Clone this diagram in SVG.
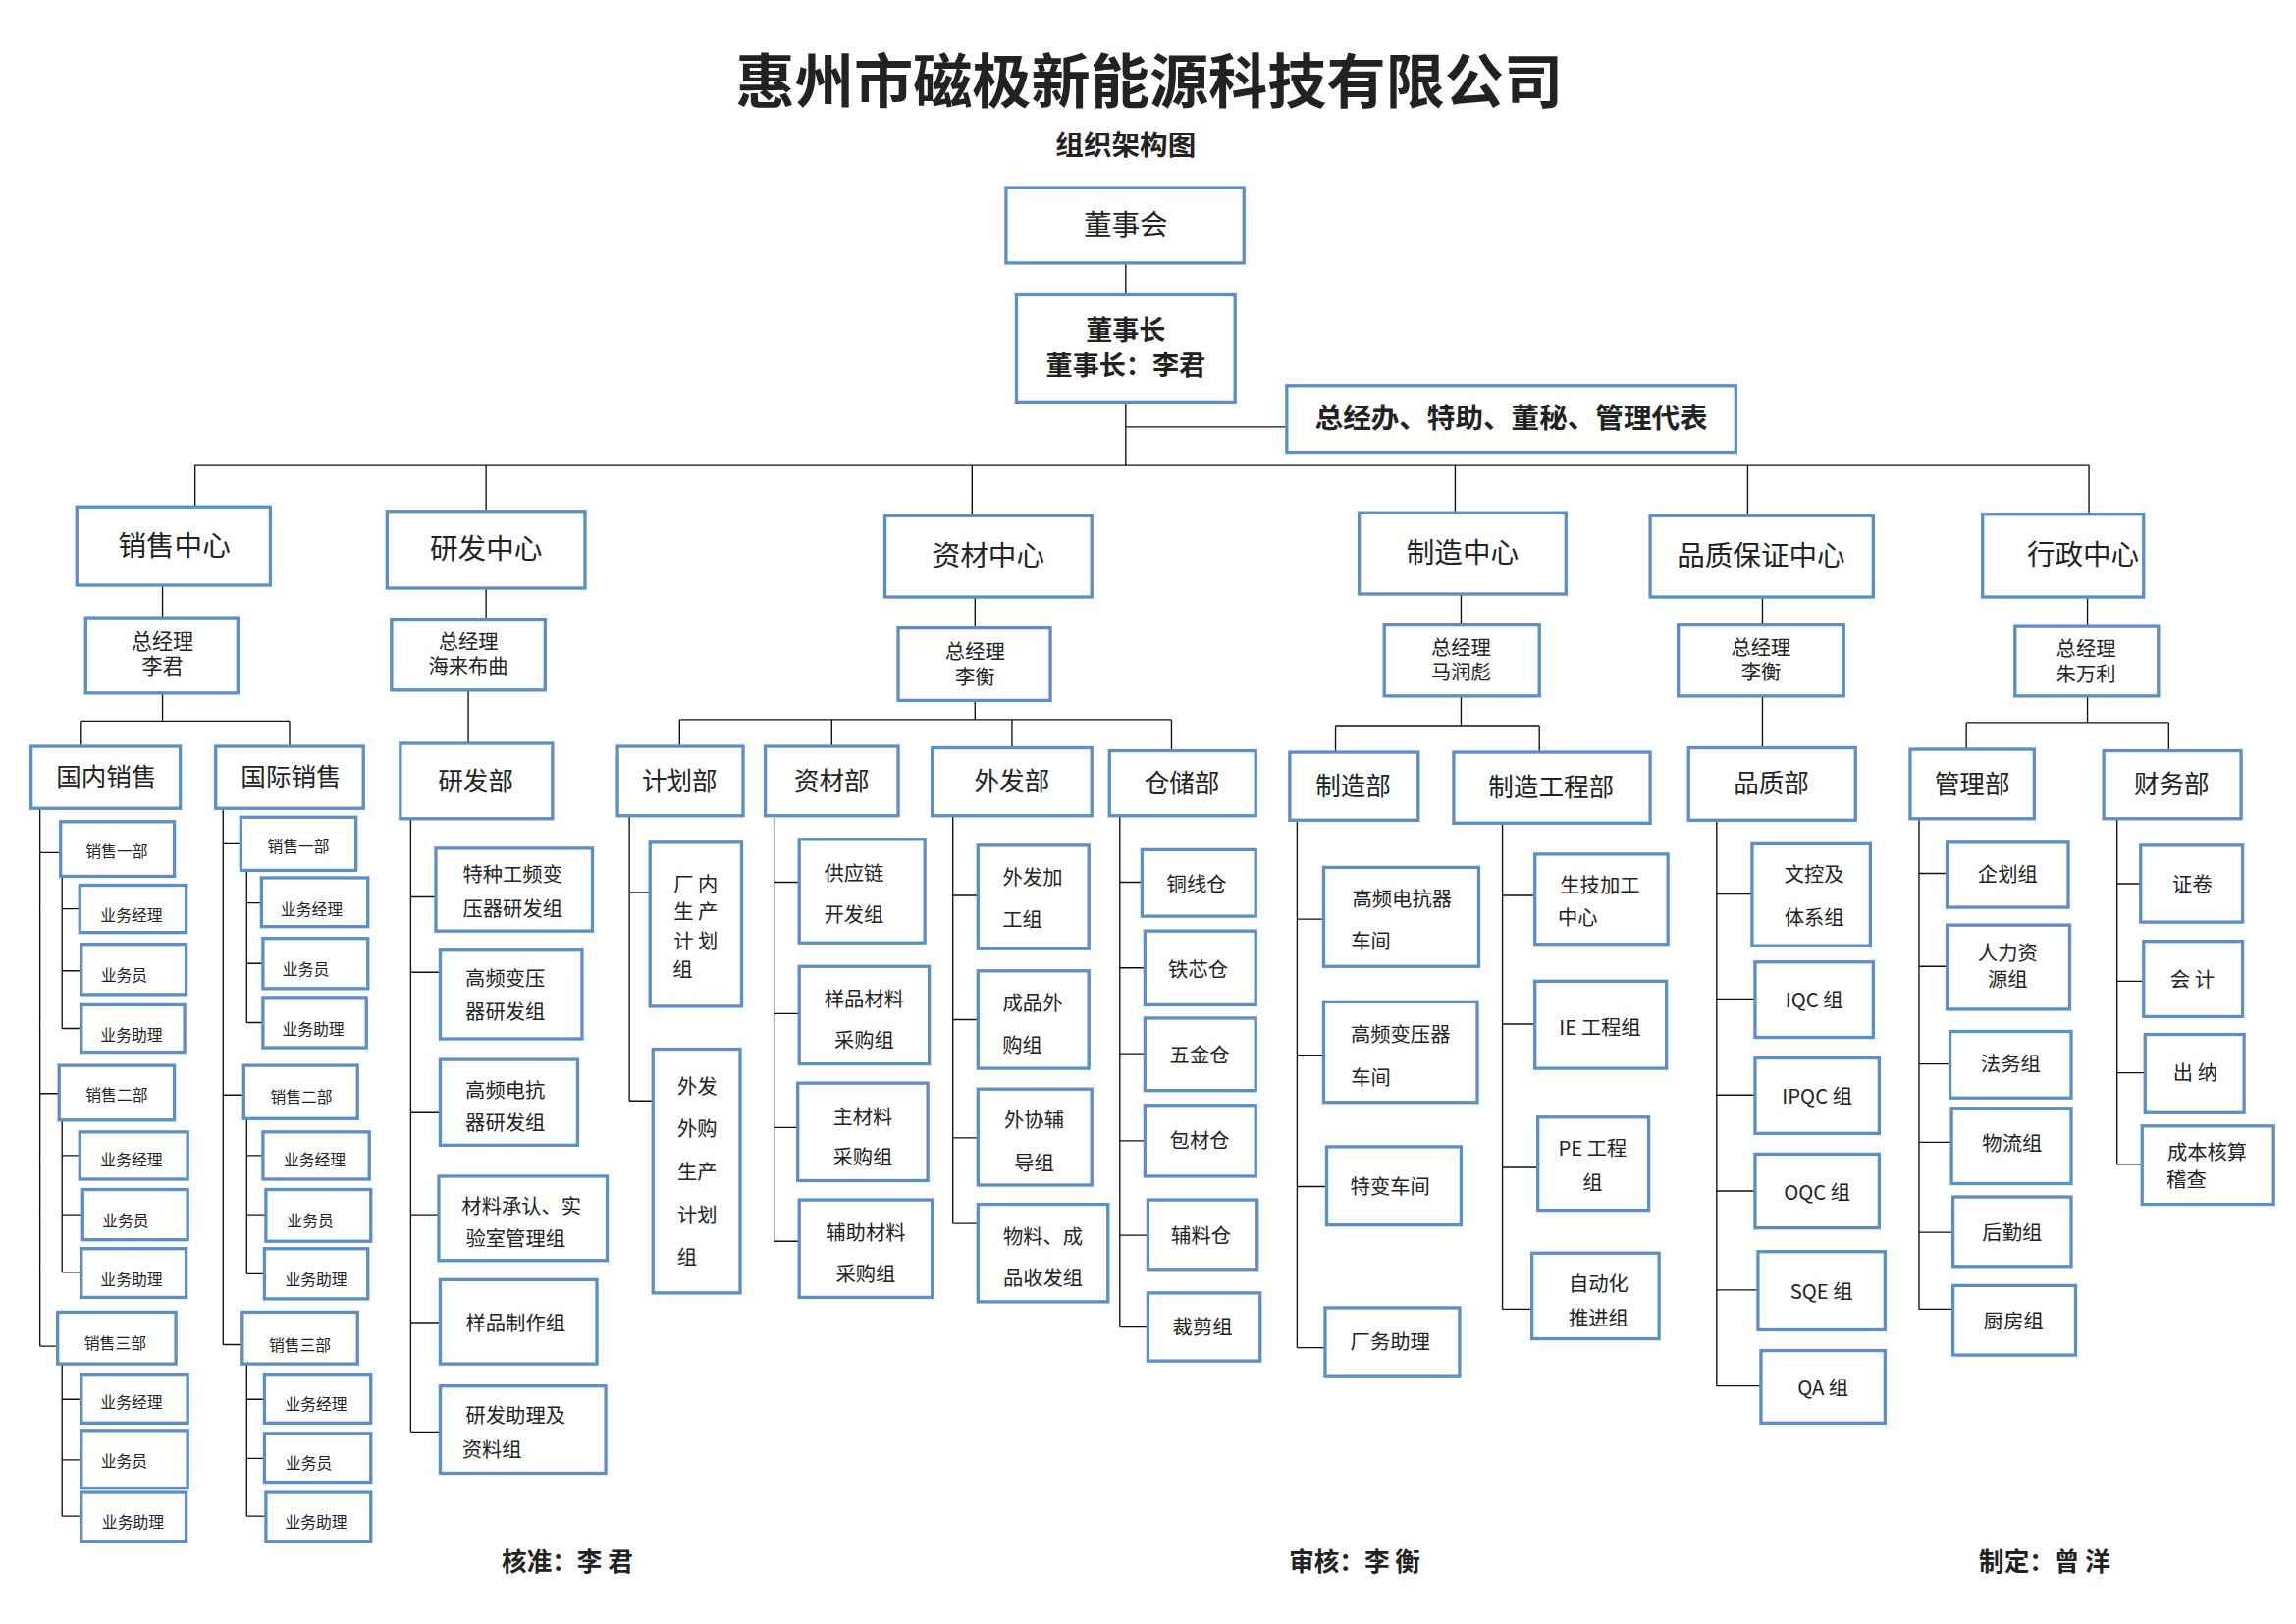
<svg xmlns="http://www.w3.org/2000/svg" width="2339" height="1654" viewBox="0 0 2339 1654">
<style>
.b{fill:#fff;stroke:#5b8fc8;stroke-width:2.2}
.c{fill:none;stroke:#111;stroke-width:0.9}
text{font-family:"Noto Sans CJK SC","Noto Sans",sans-serif;fill:#222;text-anchor:middle}
.L{font-size:19px}.M{font-size:14px}.S{font-size:13.5px}.X{font-size:10.5px}
.t{font-weight:bold}
</style>
<rect width="2339" height="1654" fill="#fff"/>
<g transform="scale(1.505)">
<text x="778" y="70" font-size="40" class="t" fill="#111">惠州市磁极新能源科技有限公司</text>
<text x="762" y="105" font-size="19" class="t">组织架构图</text>
<g id="connectors" class="c">
<path d="M762 178V199M762 272V315M762 289H871M132 315H1414M132 315V343M329 315V346M658 315V349M985 315V347M1183 315V349M1414 315V348"/>
<path d="M110 396V418M329 398V419M660 404V425M989 402V423M1193 404V423M1413 404V424"/>
<path d="M110 469V488M55 488H196M55 488V505M196 488V505M317 467V503M660 474V487M460 487H793M460 487V505M563 487V505M685 487V506M793 487V508M989 471V491M904 491H1042M904 491V509M1042 491V509M1193 471V506M1413 471V489M1331 489H1468M1331 489V507M1468 489V508"/>
<path d="M27 547V911M27 577H41M27 740H40M27 911H39M42 593V696M42 615H54M42 657H55M42 696H55M42 758V861M42 782H54M42 822H56M42 861H55M42 923V1026M42 947H55M42 988H55M42 1026H55"/>
<path d="M151 547V910M151 571H163M151 741H165M151 910H164M167 589V692M167 611H177M167 652H178M167 692H178M167 757V862M167 782H178M167 822H180M167 862H179M167 923V1026M167 947H179M167 987H179M167 1026H180"/>
<path d="M278 554V969M278 607H295M278 658H298M278 753H298M278 822H297M278 895H298M278 969H298"/>
<path d="M426 552V745M426 604H440M426 745H442M524 552V840M524 597H541M524 686H541M524 763H540M524 840H541M645 552V828M645 606H662M645 690H662M645 770H662M645 828H662M758 552V898M758 597H773M758 655H775M758 713H775M758 772H775M758 836H777M758 898H777"/>
<path d="M878 555V912M878 622H896M878 714H896M878 803H898M878 912H897M1017 557V886M1017 606H1039M1017 693H1039M1017 790H1041M1017 886H1037"/>
<path d="M1162 555V938M1162 605H1186M1162 676H1188M1162 741H1188M1162 806H1188M1162 873H1190M1162 938H1192"/>
<path d="M1299 554V886M1299 591H1318M1299 654H1318M1299 720H1320M1299 773H1321M1299 834H1322M1299 886H1322M1433 554V788M1433 598H1449M1433 664H1451M1433 726H1452M1433 788H1450"/>
</g>
<g id="n-dsh"><rect class="b" x="681" y="127" width="161" height="51"/><text class="L" x="762" y="159">董事会</text></g>
<g id="n-dsz"><rect class="b" x="688" y="199" width="148" height="73"/><text font-size="18" class="t" x="762" y="230">董事长</text><text font-size="18" class="t" x="762" y="254">董事长：李君</text></g>
<g id="n-zjb"><rect class="b" x="871" y="261" width="304" height="45"/><text class="L t" x="1023" y="290">总经办、特助、董秘、管理代表</text></g>
<g id="n-xszx"><rect class="b" x="52" y="343" width="131" height="53"/><text class="L" x="118" y="376">销售中心</text></g>
<g id="n-yfzx"><rect class="b" x="262" y="346" width="134" height="52"/><text class="L" x="329" y="378">研发中心</text></g>
<g id="n-zczx"><rect class="b" x="599" y="349" width="140" height="55"/><text class="L" x="669" y="383">资材中心</text></g>
<g id="n-zzzx"><rect class="b" x="920" y="347" width="140" height="55"/><text class="L" x="990" y="381">制造中心</text></g>
<g id="n-pzzx"><rect class="b" x="1117" y="349" width="151" height="55"/><text class="L" x="1192" y="383">品质保证中心</text></g>
<g id="n-xzzx"><rect class="b" x="1342" y="348" width="109" height="56"/><text class="L" x="1410" y="382">行政中心</text></g>
<g id="m1"><rect class="b" x="58" y="418" width="103" height="51"/><text class="M" x="110" y="439">总经理</text><text class="M" x="110" y="456">李君</text></g>
<g id="m2"><rect class="b" x="265" y="419" width="104" height="48"/><text class="S" x="317" y="439">总经理</text><text class="S" x="317" y="456">海来布曲</text></g>
<g id="m3"><rect class="b" x="608" y="425" width="103" height="49"/><text class="S" x="660" y="446">总经理</text><text class="S" x="660" y="463">李衡</text></g>
<g id="m4"><rect class="b" x="937" y="423" width="105" height="48"/><text class="S" x="989" y="443">总经理</text><text class="S" x="989" y="460">马润彪</text></g>
<g id="m5"><rect class="b" x="1136" y="423" width="112" height="48"/><text class="S" x="1192" y="443">总经理</text><text class="S" x="1192" y="460">李衡</text></g>
<g id="m6"><rect class="b" x="1364" y="424" width="97" height="47"/><text class="S" x="1412" y="444">总经理</text><text class="S" x="1412" y="461">朱万利</text></g>
<g id="d-gn"><rect class="b" x="21" y="505" width="101" height="42"/><text font-size="17" x="72" y="532">国内销售</text></g>
<g id="d-gj"><rect class="b" x="146" y="505" width="100" height="42"/><text font-size="17" x="197" y="532">国际销售</text></g>
<g id="d-yfb"><rect class="b" x="271" y="503" width="103" height="51"/><text font-size="17" x="322" y="535">研发部</text></g>
<g id="d-jhb"><rect class="b" x="418" y="505" width="85" height="47"/><text font-size="17" x="460" y="535">计划部</text></g>
<g id="d-zcb"><rect class="b" x="518" y="505" width="90" height="47"/><text font-size="17" x="563" y="535">资材部</text></g>
<g id="d-wfb"><rect class="b" x="631" y="506" width="108" height="46"/><text font-size="17" x="685" y="535">外发部</text></g>
<g id="d-ccb"><rect class="b" x="751" y="508" width="99" height="44"/><text font-size="17" x="800" y="536">仓储部</text></g>
<g id="d-zzb"><rect class="b" x="873" y="509" width="87" height="46"/><text font-size="17" x="916" y="538">制造部</text></g>
<g id="d-zzgc"><rect class="b" x="984" y="509" width="133" height="48"/><text font-size="17" x="1050" y="539">制造工程部</text></g>
<g id="d-pzb"><rect class="b" x="1143" y="506" width="113" height="49"/><text font-size="17" x="1199" y="536">品质部</text></g>
<g id="d-glb"><rect class="b" x="1293" y="507" width="84" height="47"/><text font-size="17" x="1335" y="537">管理部</text></g>
<g id="d-cwb"><rect class="b" x="1424" y="508" width="93" height="46"/><text font-size="17" x="1470" y="537">财务部</text></g>
<g id="s1"><rect class="b" x="41" y="556" width="77" height="37"/><text class="X" x="79" y="580">销售一部</text>
<rect class="b" x="54" y="599" width="72" height="32"/><text class="X" x="89" y="623">业务经理</text>
<rect class="b" x="55" y="639" width="71" height="34"/><text class="X" x="84" y="664">业务员</text>
<rect class="b" x="55" y="680" width="70" height="32"/><text class="X" x="89" y="704">业务助理</text></g>
<g id="s2"><rect class="b" x="40" y="721" width="78" height="37"/><text class="X" x="79" y="745">销售二部</text>
<rect class="b" x="54" y="766" width="73" height="32"/><text class="X" x="89" y="789">业务经理</text>
<rect class="b" x="56" y="805" width="71" height="34"/><text class="X" x="85" y="830">业务员</text>
<rect class="b" x="55" y="845" width="71" height="33"/><text class="X" x="89" y="870">业务助理</text></g>
<g id="s3"><rect class="b" x="39" y="888" width="80" height="35"/><text class="X" x="78" y="913">销售三部</text>
<rect class="b" x="55" y="930" width="72" height="33"/><text class="X" x="89" y="953">业务经理</text>
<rect class="b" x="55" y="968" width="72" height="39"/><text class="X" x="84" y="993">业务员</text>
<rect class="b" x="55" y="1010" width="71" height="33"/><text class="X" x="90" y="1034">业务助理</text></g>
<g id="s4"><rect class="b" x="163" y="553" width="78" height="36"/><text class="X" x="202" y="577">销售一部</text>
<rect class="b" x="177" y="594" width="72" height="33"/><text class="X" x="211" y="619">业务经理</text>
<rect class="b" x="178" y="635" width="71" height="34"/><text class="X" x="207" y="660">业务员</text>
<rect class="b" x="178" y="675" width="70" height="34"/><text class="X" x="212" y="700">业务助理</text></g>
<g id="s5"><rect class="b" x="165" y="721" width="77" height="36"/><text class="X" x="204" y="746">销售二部</text>
<rect class="b" x="178" y="766" width="72" height="32"/><text class="X" x="213" y="789">业务经理</text>
<rect class="b" x="180" y="805" width="71" height="35"/><text class="X" x="210" y="830">业务员</text>
<rect class="b" x="179" y="845" width="70" height="34"/><text class="X" x="214" y="870">业务助理</text></g>
<g id="s6"><rect class="b" x="164" y="888" width="78" height="35"/><text class="X" x="203" y="914">销售三部</text>
<rect class="b" x="179" y="930" width="72" height="33"/><text class="X" x="214" y="954">业务经理</text>
<rect class="b" x="179" y="970" width="72" height="33"/><text class="X" x="209" y="994">业务员</text>
<rect class="b" x="180" y="1010" width="71" height="33"/><text class="X" x="214" y="1034">业务助理</text></g>
<g id="yf"><rect class="b" x="295" y="574" width="106" height="56"/><text class="S" x="347" y="597">特种工频变</text><text class="S" x="347" y="620">压器研发组</text>
<rect class="b" x="298" y="643" width="96" height="60"/><text class="S" x="342" y="667">高频变压</text><text class="S" x="342" y="690">器研发组</text>
<rect class="b" x="298" y="717" width="93" height="58"/><text class="S" x="342" y="743">高频电抗</text><text class="S" x="342" y="765">器研发组</text>
<rect class="b" x="297" y="796" width="114" height="57"/><text class="S" x="353" y="821">材料承认、实</text><text class="S" x="349" y="843">验室管理组</text>
<rect class="b" x="298" y="866" width="106" height="57"/><text class="S" x="349" y="900">样品制作组</text>
<rect class="b" x="298" y="938" width="112" height="59"/><text class="S" x="349" y="963">研发助理及</text><text class="S" x="333" y="986">资料组</text></g>
<g id="jh"><rect class="b" x="440" y="570" width="62" height="111"/><text class="S" x="471" y="603">厂 内</text><text class="S" x="471" y="622">生 产</text><text class="S" x="471" y="642">计 划</text><text class="S" x="462" y="661">组</text>
<rect class="b" x="442" y="710" width="59" height="165"/><text class="S" x="472" y="740">外发</text><text class="S" x="472" y="769">外购</text><text class="S" x="472" y="798">生产</text><text class="S" x="472" y="827">计划</text><text class="S" x="465" y="856">组</text></g>
<g id="zc"><rect class="b" x="541" y="568" width="85" height="70"/><text class="S" x="578" y="596">供应链</text><text class="S" x="578" y="624">开发组</text>
<rect class="b" x="541" y="654" width="88" height="66"/><text class="S" x="585" y="681">样品材料</text><text class="S" x="585" y="709">采购组</text>
<rect class="b" x="540" y="733" width="88" height="66"/><text class="S" x="584" y="761">主材料</text><text class="S" x="584" y="788">采购组</text>
<rect class="b" x="541" y="812" width="90" height="66"/><text class="S" x="586" y="839">辅助材料</text><text class="S" x="586" y="867">采购组</text></g>
<g id="wf"><rect class="b" x="662" y="572" width="75" height="70"/><text class="S" x="699" y="599">外发加</text><text class="S" x="692" y="627">工组</text>
<rect class="b" x="662" y="657" width="75" height="66"/><text class="S" x="699" y="684">成品外</text><text class="S" x="692" y="712">购组</text>
<rect class="b" x="662" y="737" width="77" height="65"/><text class="S" x="700" y="763">外协辅</text><text class="S" x="700" y="792">导组</text>
<rect class="b" x="662" y="815" width="88" height="66"/><text class="S" x="706" y="842">物料、成</text><text class="S" x="706" y="870">品收发组</text></g>
<g id="cc"><rect class="b" x="773" y="575" width="77" height="45"/><text class="S" x="810" y="603">铜线仓</text>
<rect class="b" x="775" y="630" width="75" height="50"/><text class="S" x="811" y="661">铁芯仓</text>
<rect class="b" x="775" y="689" width="75" height="49"/><text class="S" x="812" y="719">五金仓</text>
<rect class="b" x="775" y="748" width="75" height="48"/><text class="S" x="812" y="777">包材仓</text>
<rect class="b" x="777" y="812" width="74" height="47"/><text class="S" x="813" y="841">辅料仓</text>
<rect class="b" x="777" y="875" width="76" height="46"/><text class="S" x="814" y="903">裁剪组</text></g>
<g id="zz"><rect class="b" x="896" y="587" width="105" height="67"/><text class="S" x="949" y="613">高频电抗器</text><text class="S" x="928" y="642">车间</text>
<rect class="b" x="896" y="678" width="104" height="68"/><text class="S" x="948" y="705">高频变压器</text><text class="S" x="928" y="734">车间</text>
<rect class="b" x="898" y="776" width="91" height="53"/><text class="S" x="941" y="808">特变车间</text>
<rect class="b" x="897" y="885" width="91" height="46"/><text class="S" x="941" y="913">厂务助理</text></g>
<g id="gc"><rect class="b" x="1039" y="578" width="90" height="61"/><text class="S" x="1083" y="604">生技加工</text><text class="S" x="1068" y="626">中心</text>
<rect class="b" x="1039" y="664" width="89" height="59"/><text class="S" x="1083" y="700">IE 工程组</text>
<rect class="b" x="1041" y="756" width="75" height="63"/><text class="S" x="1078" y="782">PE 工程</text><text class="S" x="1078" y="805">组</text>
<rect class="b" x="1037" y="848" width="86" height="58"/><text class="S" x="1082" y="874">自动化</text><text class="S" x="1082" y="897">推进组</text></g>
<g id="pz"><rect class="b" x="1186" y="571" width="80" height="69"/><text class="S" x="1228" y="597">文控及</text><text class="S" x="1228" y="626">体系组</text>
<rect class="b" x="1188" y="651" width="80" height="51"/><text class="S" x="1228" y="682">IQC 组</text>
<rect class="b" x="1188" y="716" width="84" height="51"/><text class="S" x="1230" y="747">IPQC 组</text>
<rect class="b" x="1188" y="781" width="84" height="50"/><text class="S" x="1230" y="812">OQC 组</text>
<rect class="b" x="1190" y="847" width="86" height="53"/><text class="S" x="1233" y="879">SQE 组</text>
<rect class="b" x="1192" y="914" width="84" height="49"/><text class="S" x="1234" y="944">QA 组</text></g>
<g id="gl"><rect class="b" x="1318" y="570" width="82" height="44"/><text class="S" x="1359" y="597">企划组</text>
<rect class="b" x="1318" y="626" width="83" height="57"/><text class="S" x="1359" y="650">人力资</text><text class="S" x="1359" y="668">源组</text>
<rect class="b" x="1320" y="698" width="82" height="45"/><text class="S" x="1361" y="725">法务组</text>
<rect class="b" x="1321" y="750" width="81" height="51"/><text class="S" x="1362" y="779">物流组</text>
<rect class="b" x="1322" y="810" width="80" height="47"/><text class="S" x="1362" y="839">后勤组</text>
<rect class="b" x="1322" y="870" width="83" height="47"/><text class="S" x="1363" y="899">厨房组</text></g>
<g id="cw"><rect class="b" x="1449" y="572" width="69" height="52"/><text class="S" x="1484" y="603">证卷</text>
<rect class="b" x="1451" y="637" width="67" height="51"/><text class="S" x="1484" y="668">会 计</text>
<rect class="b" x="1452" y="700" width="67" height="53"/><text class="S" x="1486" y="731">出 纳</text>
<rect class="b" x="1450" y="762" width="89" height="53"/><text class="S" x="1494" y="785">成本核算</text><text class="S" x="1480" y="803">稽查</text></g>
<text x="384" y="1063" font-size="17" class="t" fill="#111">核准：李 君</text>
<text x="917" y="1063" font-size="17" class="t" fill="#111">审核：李 衡</text>
<text x="1384" y="1063" font-size="17" class="t" fill="#111">制定：曾 洋</text>
</g>
</svg>
